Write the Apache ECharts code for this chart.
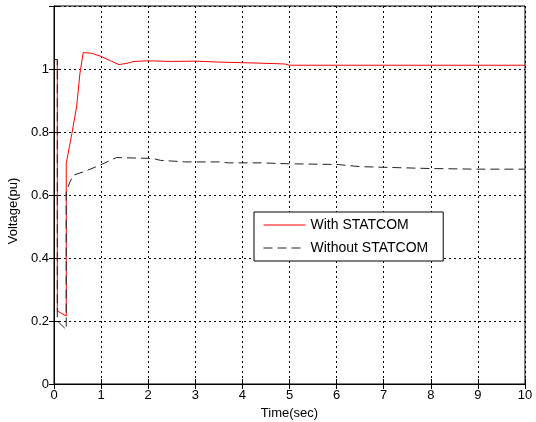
<!DOCTYPE html>
<html>
<head>
<meta charset="utf-8">
<script src="https://cdn.jsdelivr.net/npm/echarts@6/dist/echarts.min.js"></script>
<style>
  html, body { margin: 0; padding: 0; background: #fff; }
  #chart { width: 536px; height: 422px; }
</style>
</head>
<body>
<div id="chart"></div>
<script>
// with STATCOM (red, solid)
var withTime = [0, 0.07, 0.07, 0.26, 0.26, 0.38, 0.48, 0.55, 0.62, 0.66, 0.8, 1.0, 1.2, 1.38, 1.55, 1.7, 2.0, 2.5, 3.0, 3.5, 4.0, 4.5, 4.9, 5.0, 6, 7, 8, 9, 10];
var withVolt = [1.03, 1.03, 0.232, 0.216, 0.70, 0.795, 0.88, 0.985, 1.052, 1.058, 1.05, 1.04, 1.026, 1.014, 1.018, 1.024, 1.026, 1.024, 1.025, 1.022, 1.02, 1.018, 1.016, 1.012, 1.012, 1.012, 1.012, 1.012, 1.012];
// without STATCOM (black, dashed)
var withoutTime = [0, 0.07, 0.07, 0.26, 0.26, 0.34, 0.41, 0.62, 0.98, 1.33, 1.55, 2.1, 2.26, 2.8, 3.5, 3.7, 4.4, 5, 6, 6.5, 7, 8, 9, 10];
var withoutVolt = [1.03, 1.03, 0.2, 0.173, 0.61, 0.642, 0.663, 0.673, 0.695, 0.719, 0.718, 0.716, 0.71, 0.705, 0.705, 0.702, 0.702, 0.699, 0.697, 0.69, 0.688, 0.684, 0.682, 0.682];

function pairs(t, v) {
  return t.map(function (x, i) { return [x, v[i]]; });
}

var font = "'Liberation Sans', Arial, sans-serif";
var chart = echarts.init(document.getElementById('chart'));
var gridLine = { show: true, lineStyle: { color: '#000', type: [2, 3], width: 1 } };
var tick = { show: true, inside: true, length: 5, lineStyle: { color: '#000' } };

chart.setOption({
  animation: false,
  grid: {
    left: 54, right: 11, top: 6, bottom: 38,
    outerBoundsMode: 'none', containLabel: false,
    show: true, borderColor: '#000', borderWidth: 1
  },
  legend: {
    orient: 'vertical',
    left: 254,
    top: 212,
    padding: [6, 15, 6, 9],
    itemWidth: 42,
    itemHeight: 14,
    itemGap: 9,
    backgroundColor: '#fff',
    borderColor: '#000',
    borderWidth: 1,
    borderRadius: 0,
    itemStyle: { opacity: 0 },
    lineStyle: { width: 1 },
    textStyle: { fontFamily: font, fontSize: 14, color: '#000', padding: [0, 0, 0, 0] },
    data: ['With STATCOM', 'Without STATCOM']
  },
  xAxis: [{
    type: 'value',
    min: 0, max: 10, interval: 1,
    name: 'Time(sec)',
    nameLocation: 'middle',
    nameGap: 22,
    nameTextStyle: { fontFamily: font, fontSize: 13, color: '#000' },
    axisLine: { show: true, lineStyle: { color: '#000' } },
    axisTick: tick,
    axisLabel: { fontFamily: font, fontSize: 13, color: '#000', margin: 5 },
    splitLine: gridLine
  }, {
    type: 'value', position: 'top',
    min: 0, max: 10, interval: 1,
    axisLine: { show: true, lineStyle: { color: '#000' } },
    axisTick: tick,
    axisLabel: { show: false },
    splitLine: { show: false }
  }],
  yAxis: [{
    type: 'value',
    min: 0, max: 1.2, interval: 0.2,
    name: 'Voltage(pu)',
    nameLocation: 'middle',
    nameGap: 32,
    nameTextStyle: { fontFamily: font, fontSize: 13, color: '#000', padding: [0, 32, 0, 0] },
    axisLine: { show: true, lineStyle: { color: '#000' } },
    axisTick: tick,
    axisLabel: {
      fontFamily: font, fontSize: 13, color: '#000', margin: 5,
      formatter: function (v) { return v > 1.1 ? '' : String(+v.toFixed(1)); }
    },
    splitLine: gridLine
  }, {
    type: 'value', position: 'right',
    min: 0, max: 1.2, interval: 0.2,
    axisLine: { show: true, lineStyle: { color: '#000' } },
    axisTick: tick,
    axisLabel: { show: false },
    splitLine: { show: false }
  }],
  series: [{
    name: 'With STATCOM',
    type: 'line',
    symbol: 'none',
    color: '#ff0000',
    lineStyle: { color: '#ff0000', width: 1 },
    data: pairs(withTime, withVolt)
  }, {
    name: 'Without STATCOM',
    type: 'line',
    symbol: 'none',
    color: '#222',
    lineStyle: { color: '#222', width: 1, type: [9, 5] },
    data: pairs(withoutTime, withoutVolt)
  }]
});
</script>
</body>
</html>
